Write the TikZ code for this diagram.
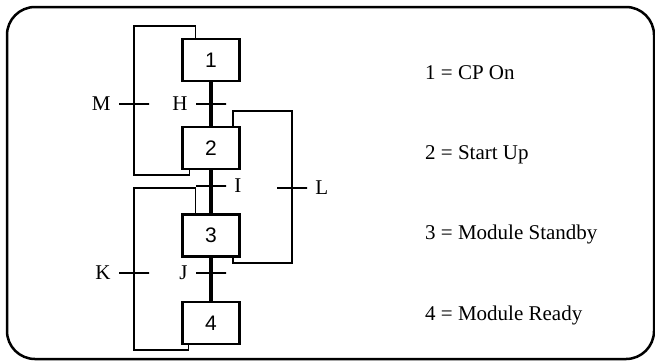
\documentclass[tikz,border=0pt]{standalone}
\usepackage{fontspec}
\setmainfont{Liberation Serif}
\setsansfont{Liberation Sans}
\usetikzlibrary{positioning}

\begin{document}
\begin{tikzpicture}[x=1pt, y=-1pt,
        stepbox/.style={draw, line width=2.2pt, minimum width=57pt, minimum height=42pt, inner sep=0pt, font=\sffamily\fontsize{21}{21}\selectfont},
        trans/.style={draw, line width=1.8pt, minimum width=30pt, minimum height=0pt, inner sep=0pt},
        link/.style={line width=4pt},
        back/.style={line width=1.8pt},
        node distance=43.5pt,
        font=\fontsize{21}{25}\selectfont]
        % Bildbereich und Rahmen
        \useasboundingbox (0,0) rectangle (655,360);
        \draw[line width=2.5pt, rounded corners=28pt] (7,7) rectangle (654,359);
        % Schritte
        \node[stepbox] (s1) at (211,60) {1};
        \node[stepbox, below=of s1] (s2) {2};
        \node[stepbox, below=of s2] (s3) {3};
        \node[stepbox, below=of s3] (s4) {4};
        % Verbindungen
        \foreach \a/\b in {s1/s2, s2/s3, s3/s4} \draw[link] (\a) -- (\b);
        % Transitionen
        \node[trans, label={[label distance=4pt]left:M}] (tM) at (134,104) {};
        \node[trans, label={[label distance=4pt]left:H}] (tH) at (211,104) {};
        \node[trans, label={[label distance=4pt]right:I}] (tI) at (211,186) {};
        \node[trans, label={[label distance=4pt]right:L}] (tL) at (292,188) {};
        \node[trans, label={[label distance=4pt]left:K}] (tK) at (134,273) {};
        \node[trans, label={[label distance=4pt]left:J}] (tJ) at (211,273) {};
        % Rueckfuehrungen
        \draw[back] ([xshift=8pt]s2.south west) |- (tM |- 0,175) -- (tM |- 0,26) -| ([xshift=14pt]s1.north west);
        \draw[back] ([xshift=-8pt]s2.north east) |- (tL |- 0,111) -- (tL |- 0,263) -| ([xshift=-8pt]s3.south east);
        \draw[back] ([xshift=7pt]s4.south west) |- (tK |- 0,350) -- (tK |- 0,188) -| ([xshift=14pt]s3.north west);
        % Legende
        \foreach \n/\txt/\y in {1/CP On/79, 2/Start Up/159, 3/Module Standby/239, 4/Module Ready/320}
            \node[anchor=base west, inner sep=0pt] (leg\n) at (425,\y) {\n{} = \txt};
    \end{tikzpicture}
\end{document}
